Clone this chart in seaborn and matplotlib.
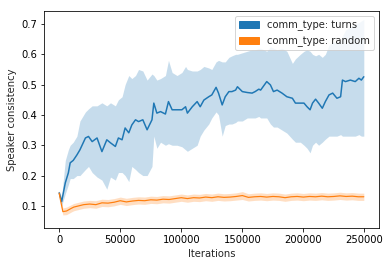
import numpy as np
import matplotlib
matplotlib.use('Agg')  # headless
import matplotlib.pyplot as plt
import seaborn as sns
from matplotlib.patches import Patch

# turns run: iterations, mean, band
turns_iter = [0, 2000, 5000, 7500, 9000, 11500, 14500, 17000, 21500, 24000,
              27000, 31000, 35000, 39000, 42000, 46000, 48500, 51500, 54000, 57000,
              59500, 62500, 65000, 68500, 72000, 76000, 77500, 80000, 83000, 87000,
              89500, 92500, 96500, 100500, 103500, 105000, 109000, 113000, 115500, 118500,
              122500, 125000, 128500, 130500, 133500, 136000, 139000, 141500, 144500, 146000,
              150000, 154000, 158000, 160500, 163500, 165000, 170000, 173000, 175500, 178500,
              182500, 186500, 191000, 193500, 197500, 200500, 203000, 205500, 207500, 210000,
              212500, 215500, 218000, 221000, 224000, 227500, 230500, 232000, 234500, 238500,
              242500, 245500, 247500, 249500]
turns_mean = [0.143, 0.114, 0.176, 0.209, 0.242, 0.250, 0.268, 0.285, 0.324, 0.329,
              0.312, 0.324, 0.279, 0.318, 0.308, 0.296, 0.324, 0.318, 0.357, 0.341,
              0.367, 0.384, 0.378, 0.384, 0.351, 0.384, 0.439, 0.406, 0.411, 0.403,
              0.444, 0.417, 0.417, 0.417, 0.427, 0.406, 0.427, 0.444, 0.427, 0.449,
              0.460, 0.466, 0.491, 0.472, 0.433, 0.460, 0.477, 0.477, 0.482, 0.493,
              0.477, 0.474, 0.472, 0.477, 0.485, 0.482, 0.510, 0.499, 0.477, 0.482,
              0.472, 0.460, 0.455, 0.439, 0.439, 0.439, 0.427, 0.417, 0.439, 0.452,
              0.439, 0.422, 0.444, 0.466, 0.472, 0.455, 0.460, 0.515, 0.510, 0.515,
              0.510, 0.521, 0.515, 0.526]
turns_hi = [0.150, 0.130, 0.250, 0.285, 0.300, 0.310, 0.330, 0.380, 0.410, 0.420,
            0.430, 0.430, 0.440, 0.430, 0.440, 0.430, 0.450, 0.460, 0.500, 0.530,
            0.520, 0.530, 0.550, 0.545, 0.515, 0.535, 0.530, 0.515, 0.520, 0.530,
            0.580, 0.540, 0.530, 0.540, 0.560, 0.550, 0.545, 0.545, 0.550, 0.560,
            0.555, 0.550, 0.575, 0.580, 0.575, 0.575, 0.590, 0.595, 0.600, 0.600,
            0.605, 0.610, 0.615, 0.615, 0.620, 0.620, 0.610, 0.625, 0.620, 0.615,
            0.620, 0.610, 0.570, 0.585, 0.600, 0.610, 0.615, 0.610, 0.600, 0.595,
            0.600, 0.590, 0.600, 0.630, 0.640, 0.640, 0.645, 0.660, 0.680, 0.690,
            0.700, 0.705, 0.710, 0.715]
turns_lo = [0.136, 0.100, 0.140, 0.170, 0.190, 0.190, 0.200, 0.200, 0.220, 0.230,
            0.210, 0.195, 0.185, 0.155, 0.195, 0.185, 0.210, 0.210, 0.200, 0.180,
            0.230, 0.220, 0.210, 0.200, 0.200, 0.230, 0.330, 0.290, 0.310, 0.300,
            0.305, 0.300, 0.300, 0.295, 0.285, 0.280, 0.290, 0.300, 0.330, 0.350,
            0.370, 0.390, 0.410, 0.400, 0.330, 0.365, 0.370, 0.370, 0.375, 0.380,
            0.380, 0.390, 0.390, 0.390, 0.395, 0.390, 0.390, 0.370, 0.360, 0.360,
            0.350, 0.340, 0.320, 0.310, 0.310, 0.300, 0.290, 0.275, 0.300, 0.310,
            0.300, 0.310, 0.320, 0.330, 0.330, 0.330, 0.335, 0.330, 0.330, 0.330,
            0.330, 0.335, 0.330, 0.330]

# random run: iterations, mean, band
rand_iter = [0, 1000, 3000, 6000, 10000, 12000, 16000, 20000, 25000, 30000,
             35000, 40000, 45000, 50000, 55000, 60000, 65000, 70000, 75000, 80000,
             85000, 90000, 95000, 100000, 105000, 110000, 115000, 120000, 125000, 130000,
             135000, 140000, 145000, 150000, 155000, 160000, 165000, 170000, 175000, 180000,
             185000, 190000, 195000, 200000, 205000, 210000, 215000, 220000, 225000, 230000,
             235000, 240000, 245000, 249500]
rand_mean = [0.142, 0.120, 0.081, 0.083, 0.092, 0.096, 0.100, 0.104, 0.106, 0.104,
             0.110, 0.109, 0.112, 0.117, 0.113, 0.116, 0.118, 0.117, 0.120, 0.119,
             0.122, 0.121, 0.124, 0.127, 0.124, 0.127, 0.126, 0.129, 0.127, 0.130,
             0.128, 0.129, 0.131, 0.134, 0.128, 0.130, 0.131, 0.129, 0.131, 0.130,
             0.127, 0.130, 0.131, 0.129, 0.131, 0.130, 0.132, 0.130, 0.131, 0.133,
             0.131, 0.132, 0.130, 0.130]
rand_hi = [0.146, 0.130, 0.093, 0.096, 0.104, 0.108, 0.112, 0.116, 0.118, 0.117,
           0.122, 0.121, 0.124, 0.129, 0.125, 0.128, 0.130, 0.129, 0.132, 0.131,
           0.134, 0.133, 0.136, 0.139, 0.136, 0.139, 0.138, 0.141, 0.139, 0.142,
           0.140, 0.141, 0.143, 0.147, 0.140, 0.142, 0.143, 0.141, 0.143, 0.142,
           0.139, 0.142, 0.143, 0.141, 0.143, 0.142, 0.144, 0.142, 0.143, 0.145,
           0.143, 0.144, 0.142, 0.142]
rand_lo = [0.138, 0.110, 0.070, 0.071, 0.080, 0.084, 0.088, 0.092, 0.094, 0.092,
           0.098, 0.097, 0.100, 0.105, 0.101, 0.104, 0.106, 0.105, 0.108, 0.107,
           0.110, 0.109, 0.112, 0.115, 0.112, 0.115, 0.114, 0.117, 0.115, 0.118,
           0.116, 0.117, 0.119, 0.121, 0.116, 0.118, 0.119, 0.117, 0.119, 0.118,
           0.115, 0.118, 0.119, 0.117, 0.119, 0.118, 0.120, 0.118, 0.119, 0.121,
           0.119, 0.120, 0.118, 0.118]

labels = ['comm_type: turns', 'comm_type: random']
colors = ['#1f77b4', '#ff7f0e']

sns.set_style('ticks')
plt.rcParams['font.family'] = ['DejaVu Sans']
plt.rcParams['axes.edgecolor'] = 'black'

fig = plt.figure(figsize=(389 / 72, 266 / 72), dpi=72)  # canvas
ax = fig.add_axes([0.1131, 0.1429, 0.8612, 0.817])

ax.fill_between(turns_iter, turns_lo, turns_hi, color=colors[0], alpha=0.25, lw=0)  # band t
sns.lineplot(x=turns_iter, y=turns_mean, color=colors[0], lw=1.5, ax=ax)  # line t
ax.fill_between(rand_iter, rand_lo, rand_hi, color=colors[1], alpha=0.25, lw=0)  # band r
sns.lineplot(x=rand_iter, y=rand_mean, color=colors[1], lw=1.2, ax=ax)  # line r

ax.set_xlim(-12450, 261950)
ax.set_ylim(0.027, 0.744)
ax.set_yticks([0.1, 0.2, 0.3, 0.4, 0.5, 0.6, 0.7])
ax.set_xticks([0, 50000, 100000, 150000, 200000, 250000])
ax.tick_params(labelsize=10, length=3.5, width=0.8, colors='black')
for s in ax.spines.values():
    s.set_linewidth(0.8)
ax.set_xlabel('Iterations', fontsize=10)
ax.set_ylabel('Speaker consistency', fontsize=10)

handles = [Patch(facecolor=c, edgecolor=c) for c in colors]
ax.legend(handles, labels, loc='upper right', fontsize=10, frameon=True, framealpha=0.8, fancybox=True)

plt.savefig('out.png', dpi=72)
